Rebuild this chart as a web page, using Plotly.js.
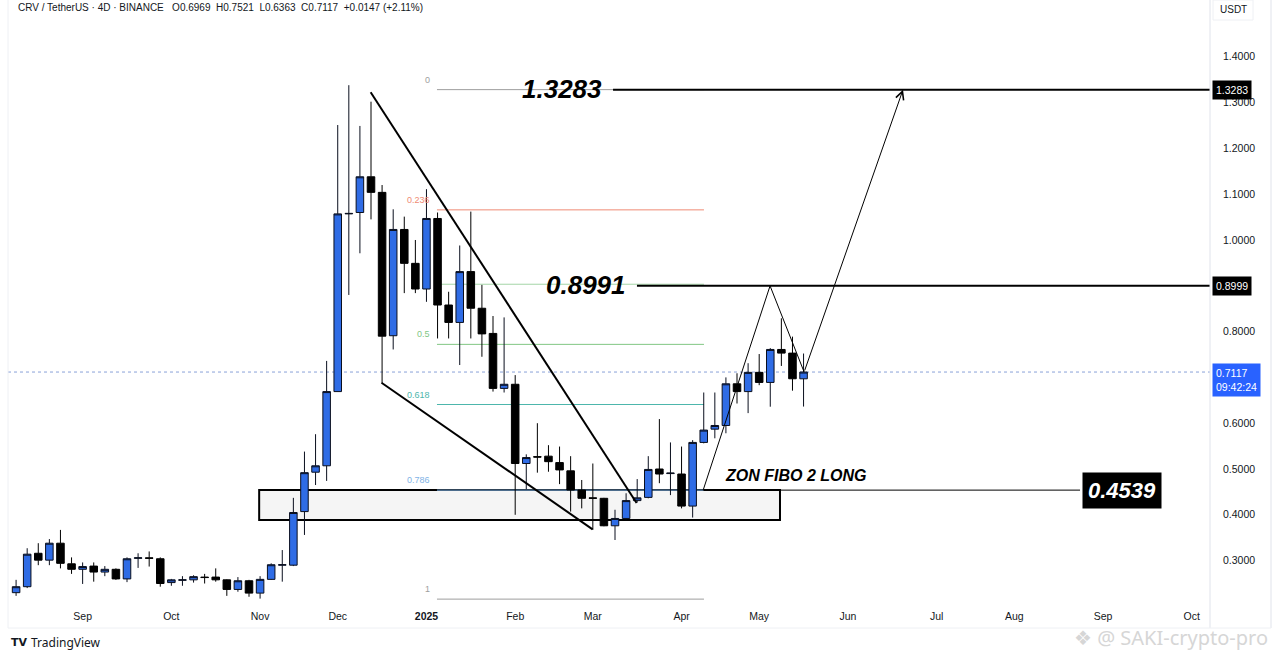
<!DOCTYPE html>
<html><head><meta charset="utf-8">
<script src="https://cdn.plot.ly/plotly-3.0.1.min.js"></script>
<style>html,body{margin:0;padding:0;background:#fff;}#chart{width:1280px;height:658px;}</style>
</head><body><div id="chart"></div>
<script>
// ---- candle data (4D, CRV/USDT) ----
const dates = ['2024-08-09','2024-08-13','2024-08-17','2024-08-21','2024-08-25','2024-08-29',
'2024-09-02','2024-09-06','2024-09-10','2024-09-14','2024-09-18','2024-09-22','2024-09-26','2024-09-30',
'2024-10-04','2024-10-08','2024-10-12','2024-10-16','2024-10-20','2024-10-24','2024-10-28',
'2024-11-01','2024-11-05','2024-11-09','2024-11-13','2024-11-17','2024-11-21','2024-11-25','2024-11-29',
'2024-12-03','2024-12-07','2024-12-11','2024-12-15','2024-12-19','2024-12-23','2024-12-27','2024-12-31',
'2025-01-04','2025-01-08','2025-01-12','2025-01-16','2025-01-20','2025-01-24','2025-01-28',
'2025-02-01','2025-02-05','2025-02-09','2025-02-13','2025-02-17','2025-02-21','2025-02-25',
'2025-03-01','2025-03-05','2025-03-09','2025-03-13','2025-03-17','2025-03-21','2025-03-25','2025-03-29',
'2025-04-02','2025-04-06','2025-04-10','2025-04-14','2025-04-18','2025-04-22','2025-04-26','2025-04-30',
'2025-05-04','2025-05-08','2025-05-12','2025-05-16','2025-05-20'];
const openP = [0.230,0.243,0.316,0.301,0.338,0.293,
0.281,0.288,0.275,0.281,0.260,0.305,0.306,0.304,
0.252,0.257,0.258,0.264,0.264,0.258,0.237,
0.256,0.229,0.259,0.290,0.290,0.407,0.493,0.507,
0.669,1.057,1.060,1.138,1.104,0.791,1.023,0.949,
0.893,1.047,0.858,0.820,0.931,0.851,0.796,
0.676,0.685,0.512,0.527,0.528,0.514,0.496,
0.454,0.437,0.436,0.376,0.392,0.431,0.438,0.500,
0.490,0.489,0.419,0.558,0.587,0.595,0.686,0.669,
0.711,0.689,0.761,0.753,0.6969];
const highP = [0.258,0.327,0.338,0.347,0.367,0.307,
0.296,0.296,0.288,0.283,0.307,0.316,0.320,0.307,
0.260,0.266,0.268,0.271,0.283,0.259,0.264,
0.258,0.266,0.294,0.323,0.437,0.538,0.576,0.736,
1.251,1.338,1.249,1.302,1.120,1.067,1.051,1.000,
1.111,1.060,0.887,0.988,1.062,0.902,0.834,
0.831,0.705,0.532,0.600,0.552,0.549,0.528,
0.476,0.512,0.437,0.411,0.447,0.478,0.528,0.609,
0.558,0.549,0.563,0.667,0.667,0.700,0.709,0.731,
0.751,0.764,0.829,0.789,0.7521];
const lowP = [0.223,0.240,0.290,0.290,0.283,0.271,
0.249,0.254,0.266,0.258,0.253,0.284,0.287,0.243,
0.245,0.245,0.252,0.250,0.254,0.223,0.232,
0.221,0.217,0.258,0.254,0.288,0.356,0.465,0.474,
0.669,0.880,0.971,1.045,0.688,0.761,0.884,0.884,
0.865,0.785,0.785,0.727,0.785,0.745,0.669,
0.667,0.400,0.456,0.492,0.494,0.467,0.407,
0.414,0.367,0.375,0.345,0.390,0.427,0.436,0.469,
0.443,0.414,0.394,0.556,0.567,0.578,0.643,0.622,
0.683,0.636,0.725,0.671,0.6363];
const closeP = [0.243,0.314,0.301,0.338,0.294,0.281,
0.287,0.275,0.281,0.260,0.304,0.306,0.305,0.250,
0.258,0.258,0.265,0.263,0.258,0.237,0.256,
0.229,0.259,0.291,0.291,0.405,0.492,0.507,0.669,
1.057,1.058,1.138,1.104,0.790,1.023,0.949,0.893,
1.047,0.858,0.820,0.931,0.851,0.795,0.676,
0.685,0.512,0.525,0.526,0.516,0.498,0.454,
0.436,0.436,0.376,0.392,0.431,0.437,0.499,0.489,
0.491,0.419,0.558,0.585,0.595,0.686,0.669,0.711,
0.689,0.761,0.753,0.697,0.7117];

// ---- axes (0.7000 and 0.9000 are covered by price tags in the reference) ----
const yTickVals = [0.3,0.4,0.5,0.6,0.8,1.0,1.1,1.2,1.3,1.4];
const monthTickDates = ['2024-09-02','2024-10-04','2024-11-05','2024-12-03','2025-01-04','2025-02-05','2025-03-05',
'2025-04-06','2025-05-04','2025-06-05','2025-07-07','2025-08-04','2025-09-05','2025-10-07'];
const monthTickText = ['Sep','Oct','Nov','Dec','<b>2025</b>','Feb','Mar','Apr','May','Jun','Jul','Aug','Sep','Oct'];
const xRange = ['2024-08-06 02:00','2025-10-13 14:00'];
const yRange = [0.2096,1.524];

// ---- drawings ----
const fibRatios = ['0','0.236','0.382','0.5','0.618','0.786','1'];
const fibPrices = [1.3283,1.0658,0.9034,0.7721,0.6408,0.4539,0.2159];
const fibColors = ['#9e9e9e','#ef8a74','#a5d6a7','#81c784','#4db6ac','#7fb3e6','#9e9e9e'];
const fibShowLabel = [true,true,false,true,true,true,true];
const fibSpan = ['2025-01-07 19:00','2025-04-14 02:00'];

const upperTrendX = ['2024-12-14 21:00','2025-03-20 19:00'];
const upperTrendY = [1.3225,0.4258];
const lowerTrendX = ['2024-12-18 19:00','2025-03-04 22:00'];
const lowerTrendY = [0.6884,0.3683];
const zigzagX = ['2025-04-13 19:00','2025-05-07 22:00','2025-05-20 05:00','2025-06-24 21:00'];
const zigzagY = [0.4539,0.8999,0.7117,1.3283];

const zoneX = ['2024-11-04 16:00','2025-05-11 12:00'];
const zoneY = [0.3886,0.4541];

const targetPrices = [1.3283,0.8999];
const targetStarts = ['2025-03-12 07:00','2025-03-20 22:00'];
const targetTextX = ['2025-02-22 00:00','2025-03-02 14:00'];
const targetText = ['1.3283','0.8991'];
const longPrice = 0.4539;
const longLine = ['2025-04-13 19:00','2025-08-27 17:00'];
const longBoxX = '2025-09-11 22:00';
const zoneLabelX = '2025-05-16 22:00';
const zoneLabelY = 0.4869;
const lastPrice = 0.7117;

// ---- layout helpers (pixel -> paper) ----
const L = 8, R = 70, T = 0, B = 56, W = 1280 - L - R, H = 658 - T - B;
const px = x => (x - L) / W;
const py = y => 1 - (y - T) / H;

const FONT = 'Liberation Sans, Arial, sans-serif';
const TXT = '#131722';

const shapes = [];
const annotations = [];

// zone rectangle
shapes.push({type:'rect', xref:'x', yref:'y', x0:zoneX[0], x1:zoneX[1], y0:zoneY[0], y1:zoneY[1],
  fillcolor:'#f5f5f5', line:{color:'#000', width:2}, layer:'below'});
// fib lines
fibPrices.forEach((p,i)=>{
  shapes.push({type:'line', xref:'x', yref:'y', x0:fibSpan[0], x1:fibSpan[1], y0:p, y1:p,
    line:{color:fibColors[i], width:1}, layer:'below'});
  if (fibShowLabel[i]) annotations.push({xref:'x', yref:'y', x:fibSpan[0], y:p, text:fibRatios[i],
    showarrow:false, xanchor:'right', yanchor:'middle', xshift:-5, yshift:10,
    font:{family:FONT, size:9, color:fibColors[i]}});
});
// current price dotted line
shapes.push({type:'line', xref:'paper', yref:'y', x0:0, x1:1, y0:lastPrice, y1:lastPrice,
  line:{color:'#8aa2d8', width:1, dash:'dot'}, layer:'below'});
// trend lines
shapes.push({type:'line', xref:'x', yref:'y', x0:upperTrendX[0], x1:upperTrendX[1], y0:upperTrendY[0], y1:upperTrendY[1], line:{color:'#000', width:2}});
shapes.push({type:'line', xref:'x', yref:'y', x0:lowerTrendX[0], x1:lowerTrendX[1], y0:lowerTrendY[0], y1:lowerTrendY[1], line:{color:'#000', width:2}});
// zigzag projection
for (let i=0;i<2;i++) shapes.push({type:'line', xref:'x', yref:'y', x0:zigzagX[i], x1:zigzagX[i+1], y0:zigzagY[i], y1:zigzagY[i+1], line:{color:'#000', width:1}});
annotations.push({xref:'x', yref:'y', axref:'x', ayref:'y', x:zigzagX[3], y:zigzagY[3], ax:zigzagX[2], ay:zigzagY[2],
  text:'', showarrow:true, arrowhead:5, arrowsize:1.6, arrowwidth:1, arrowcolor:'#000'});
// target lines and texts
targetPrices.forEach((p,i)=>{
  shapes.push({type:'line', xref:'x', yref:'y', x0:targetStarts[i], x1:xRange[1], y0:p, y1:p, line:{color:'#000', width:2}});
  annotations.push({xref:'x', yref:'y', x:targetTextX[i], y:p, text:'<b><i>'+targetText[i]+'</i></b>', showarrow:false,
    xanchor:'center', yanchor:'middle', yshift:1, font:{family:FONT, size:26, color:'#000'}});
  annotations.push({xref:'paper', yref:'y', x:1, y:p, text:p.toFixed(4), showarrow:false, xanchor:'left', yanchor:'middle',
    xshift:2, bgcolor:'#000', borderpad:3, font:{family:FONT, size:10.5, color:'#fff'}});
});
// long level
shapes.push({type:'line', xref:'x', yref:'y', x0:longLine[0], x1:longLine[1], y0:longPrice, y1:longPrice, line:{color:'#000', width:1}});
annotations.push({xref:'x', yref:'y', x:longBoxX, y:longPrice, text:'<b><i>'+longPrice.toFixed(4)+'</i></b>', showarrow:false,
  xanchor:'center', yanchor:'middle', bgcolor:'#000', borderpad:5, font:{family:FONT, size:22, color:'#fff'}});
annotations.push({xref:'x', yref:'y', x:zoneLabelX, y:zoneLabelY, text:'<b><i>ZON FIBO 2 LONG</i></b>', showarrow:false,
  xanchor:'center', yanchor:'middle', font:{family:FONT, size:16, color:'#000'}});
// last price tag
annotations.push({xref:'paper', yref:'y', x:1, y:lastPrice, text:lastPrice.toFixed(4)+'<br>09:42:24', showarrow:false,
  xanchor:'left', yanchor:'top', xshift:2, yshift:9, align:'left', bgcolor:'#2962ff', borderpad:3,
  font:{family:FONT, size:10.5, color:'#fff'}});

// panel borders / decorations
const BORDER = '#e0e3eb';
shapes.push({type:'line', xref:'paper', yref:'paper', x0:1, x1:1, y0:py(0), y1:py(628), line:{color:BORDER, width:1}});
shapes.push({type:'line', xref:'paper', yref:'paper', x0:px(1271), x1:px(1271), y0:py(0), y1:py(628), line:{color:BORDER, width:1}});
shapes.push({type:'line', xref:'paper', yref:'paper', x0:px(8), x1:px(8), y0:py(0), y1:py(628), line:{color:'#eef0f4', width:1}});
shapes.push({type:'line', xref:'paper', yref:'paper', x0:px(8), x1:px(1271), y0:py(628), y1:py(628), line:{color:'#eef0f4', width:1}});
shapes.push({type:'rect', xref:'paper', yref:'paper', x0:px(1213), x1:px(1253), y0:py(0), y1:py(20), line:{color:'#eef0f4', width:1}, fillcolor:'#fff'});
annotations.push({xref:'paper', yref:'paper', x:px(1233), y:py(9), text:'USDT', showarrow:false, xanchor:'center', yanchor:'middle',
  font:{family:FONT, size:10, color:TXT}});
// header
annotations.push({xref:'paper', yref:'paper', x:px(16), y:py(8), xanchor:'left', yanchor:'middle', showarrow:false,
  text:'CRV / TetherUS · 4D · BINANCE&nbsp;&nbsp;&nbsp;O0.6969&nbsp;&nbsp;H0.7521&nbsp;&nbsp;L0.6363&nbsp;&nbsp;C0.7117&nbsp;&nbsp;+0.0147 (+2.11%)',
  font:{family:FONT, size:10, color:TXT}});
// footer logo
annotations.push({xref:'paper', yref:'paper', x:px(9), y:py(642), xanchor:'left', yanchor:'middle', showarrow:false,
  text:'<b>TV</b>', font:{family:'DejaVu Sans, sans-serif', size:11, color:'#131722'}});
annotations.push({xref:'paper', yref:'paper', x:px(29), y:py(642), xanchor:'left', yanchor:'middle', showarrow:false,
  text:'TradingView', font:{family:'Noto Sans, sans-serif', size:12, color:'#131722'}});
// watermark
annotations.push({xref:'paper', yref:'paper', x:px(1270), y:py(637), xanchor:'right', yanchor:'middle', showarrow:false,
  text:'❖ @ SAKI-crypto-pro', font:{family:'Noto Sans, DejaVu Sans, sans-serif', size:20, color:'#d6d6d6'}});

const trace = {
  type:'candlestick', x:dates, open:openP, high:highP, low:lowP, close:closeP,
  increasing:{line:{color:'#0a0f1e', width:1}, fillcolor:'#2f6ce5'},
  decreasing:{line:{color:'#000', width:1}, fillcolor:'#000'},
  hoverinfo:'skip', showlegend:false
};

const layout = {
  width:1280, height:658,
  margin:{l:L, r:R, t:T, b:B, pad:0},
  paper_bgcolor:'#fff', plot_bgcolor:'#fff',
  showlegend:false, boxgap:0.2, boxgroupgap:0.15,
  xaxis:{type:'date', range:xRange, rangeslider:{visible:false}, showgrid:false, zeroline:false, showline:false,
    tickmode:'array', tickvals:monthTickDates, ticktext:monthTickText, ticks:'', ticklabelstandoff:6,
    tickfont:{family:FONT, size:10.5, color:TXT}, fixedrange:true},
  yaxis:{side:'right', range:yRange, showgrid:false, zeroline:false, showline:false,
    tickmode:'array', tickvals:yTickVals, tickformat:'.4f', ticks:'', ticklabelstandoff:12,
    tickfont:{family:FONT, size:10.5, color:TXT}, fixedrange:true},
  shapes:shapes, annotations:annotations
};

Plotly.newPlot('chart', [trace], layout, {displayModeBar:false, staticPlot:true});
</script></body></html>
